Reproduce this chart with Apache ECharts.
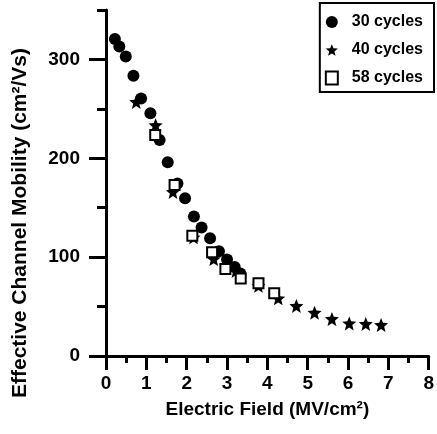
<!DOCTYPE html>
<html>
<head>
<meta charset="utf-8">
<script src="https://cdn.jsdelivr.net/npm/echarts@6/dist/echarts.min.js"></script>
<style>
html,body{margin:0;padding:0;background:#fff;}
#c{width:437px;height:434px;}
</style>
</head>
<body>
<div id="c"></div>
<script>
// Data
const seriesNames = ['30 cycles', '40 cycles', '58 cycles'];
const cycles30 = [
  [0.22, 320.7], [0.33, 313], [0.49, 303], [0.68, 283.5], [0.87, 260.5],
  [1.10, 245.5], [1.33, 218.5], [1.53, 196], [1.77, 174.6], [1.96, 159.5],
  [2.18, 141], [2.37, 130], [2.58, 119], [2.80, 106], [3.00, 97.5],
  [3.19, 90], [3.33, 83.5]
];
const cycles40 = [
  [0.75, 257], [1.23, 233.5], [1.66, 166], [2.17, 120], [2.67, 98],
  [3.22, 86], [3.78, 71], [4.27, 58.3], [4.72, 50.6], [5.17, 43.8],
  [5.60, 37.4], [6.03, 33], [6.44, 32.4], [6.82, 31.4]
];
const cycles58 = [
  [1.22, 223.5], [1.70, 173], [2.14, 121.7], [2.63, 105], [2.96, 88],
  [3.34, 78.5], [3.78, 73.5], [4.17, 63.4]
];
const xTicks = [0, 1, 2, 3, 4, 5, 6, 7, 8];
const yMajorTicks = [0, 100, 200, 300];
const yMinorTicks = [50, 150, 250, 350];

const starPath = 'path://M50,0 L63,32 L98,35 L71,58 L80,93 L50,74 L20,93 L29,58 L2,35 L37,32 Z';
const FONT = 'Liberation Sans';

const chart = echarts.init(document.getElementById('c'), null, {renderer: 'canvas'});
const option = {
  animation: false,
  backgroundColor: '#fff',
  grid: {left: 106, right: 5, top: 10, bottom: 78, containLabel: false},
  legend: {
    orient: 'vertical',
    right: 3,
    top: 3,
    borderColor: '#000',
    borderWidth: 2,
    padding: [11, 11, 6, 5],
    itemGap: 12,
    itemWidth: 12,
    itemHeight: 13,
    textStyle: {fontFamily: FONT, fontWeight: 'bold', fontSize: 16, color: '#000', padding: [0, 0, 0, 9]},
    data: [
      {name: seriesNames[0], icon: 'circle', itemStyle: {color: '#000', opacity: 1}},
      {name: seriesNames[1], icon: starPath, itemStyle: {color: '#000', opacity: 1}},
      {name: seriesNames[2], icon: 'rect', itemStyle: {color: '#fff', borderColor: '#000', borderWidth: 2, opacity: 1}}
    ]
  },
  xAxis: {
    type: 'value',
    min: 0, max: 8, interval: 1,
    name: 'Electric Field (MV/cm²)',
    nameLocation: 'middle',
    nameGap: 44,
    nameTextStyle: {fontFamily: FONT, fontWeight: 'bold', fontSize: 19, color: '#000'},
    axisLine: {show: true, lineStyle: {color: '#000', width: 3}},
    axisTick: {show: true, inside: false, length: 14, lineStyle: {color: '#000', width: 3}},
    minorTick: {show: true, splitNumber: 2, length: 7, lineStyle: {color: '#000', width: 3}},
    axisLabel: {fontFamily: FONT, fontWeight: 'bold', fontSize: 19, color: '#000', margin: 18,
      formatter: v => (xTicks.indexOf(v) >= 0 ? String(v) : '')},
    splitLine: {show: false}
  },
  yAxis: [{
    type: 'value',
    min: 0, max: 350,
    name: 'Effective Channel Mobility (cm²/Vs)',
    nameLocation: 'middle',
    nameGap: 75,
    nameRotate: 90,
    nameTextStyle: {fontFamily: FONT, fontWeight: 'bold', fontSize: 21, color: '#000', padding: [0, 80, 0, 0]},
    axisLine: {show: true, onZero: false, lineStyle: {color: '#000', width: 3}},
    axisTick: {show: true, length: 17, customValues: yMajorTicks, lineStyle: {color: '#000', width: 3}},
    axisLabel: {fontFamily: FONT, fontWeight: 'bold', fontSize: 19, color: '#000', margin: 26, customValues: yMajorTicks},
    splitLine: {show: false}
  }, {
    type: 'value',
    position: 'left',
    min: 0, max: 350,
    axisLine: {show: false},
    axisTick: {show: true, length: 9, customValues: yMinorTicks, lineStyle: {color: '#000', width: 3}},
    axisLabel: {show: false},
    splitLine: {show: false}
  }],
  series: [{
    name: seriesNames[0],
    type: 'scatter',
    symbol: 'circle',
    symbolSize: 12,
    itemStyle: {color: '#000', opacity: 1},
    data: cycles30
  }, {
    name: seriesNames[1],
    type: 'scatter',
    symbol: starPath,
    symbolSize: 14,
    itemStyle: {color: '#000', opacity: 1},
    data: cycles40
  }, {
    name: seriesNames[2],
    type: 'scatter',
    symbol: 'rect',
    symbolSize: 10,
    itemStyle: {color: '#fff', borderColor: '#000', borderWidth: 2, opacity: 1},
    data: cycles58
  }]
};
chart.setOption(option);
</script>
</body>
</html>
